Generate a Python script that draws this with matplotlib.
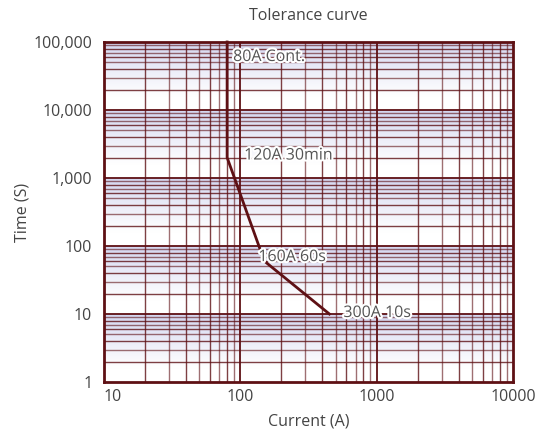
import numpy as np
import matplotlib
matplotlib.use("Agg")
import matplotlib.pyplot as plt
import matplotlib.patheffects as pe
from matplotlib.ticker import FixedLocator, NullFormatter

plt.rcParams['font.family'] = ['Open Sans', 'DejaVu Sans']

# curve data
current = [80, 80, 150, 450]
time_s = [100000, 2000, 60, 10]
labels = ["80A Cont.", "120A 30min", "160A 60s", "300A 10s"]
label_offsets = [(6, -15), (17, 2), (-6, 4), (14, 1)]  # pixels

x_ticks = [10, 100, 1000, 10000]
x_ticklabels = ["10", "100", "1000", "10000"]
y_ticks = [1, 10, 100, 1000, 10000, 100000]
y_ticklabels = ["1", "10", "100", "1,000", "10,000", "100,000"]

maroon = "#5e1014"
txt = "#444444"
fs = 11.5

fig = plt.figure(figsize=(5.39, 4.33), dpi=100)
ax = fig.add_axes([104 / 539, 1 - 382 / 433, 409 / 539, 340 / 433])
ax.set_xscale("log")
ax.set_yscale("log")
ax.set_xlim(10, 10000)
ax.set_ylim(1, 100000)

# lavender gradient, one band per decade (lavender at top -> white at bottom)
n = 500
t = np.linspace(0, 1, n)
frac = (t * 5) % 1.0          # 0 at bottom of decade, 1 at top
w = np.clip((frac - 0.2) / 0.8, 0, 1) ** 1.1
top = np.array([0.83, 0.84, 0.94])
col = 1 - w[:, None] * (1 - top[None, :])
img = np.repeat(col[:, None, :], 2, axis=1)
ax.imshow(img, extent=[0, 1, 0, 1], transform=ax.transAxes, origin="lower",
          aspect="auto", zorder=0, interpolation="bilinear")

# grid lines
for d in range(1, 4):
    for m in range(2, 10):
        ax.axvline(m * 10 ** d, color=maroon, lw=1.0, alpha=0.6 if m % 2 else 0.8, zorder=1)
    if d > 1:
        ax.axvline(10 ** d, color=maroon, lw=1.3, zorder=1)
for d in range(0, 5):
    for m in range(2, 10):
        ax.axhline(m * 10 ** d, color=maroon, lw=1.0, alpha=0.6 if m % 2 else 0.8, zorder=1)
    if d > 0:
        ax.axhline(10 ** d, color=maroon, lw=1.3, zorder=1)

ax.plot(current, time_s, color=maroon, lw=2, zorder=3, clip_on=False)

for xv, yv, lab, off in zip(current, time_s, labels, label_offsets):
    ax.annotate(lab, xy=(xv, yv), xytext=off, textcoords="offset pixels",
                ha="left", va="center", fontsize=fs, color="#555555", zorder=4,
                path_effects=[pe.withStroke(linewidth=3, foreground="white")])

for s in ax.spines.values():
    s.set_color(maroon)
    s.set_linewidth(2)

ax.xaxis.set_major_locator(FixedLocator(x_ticks))
ax.set_xticklabels(x_ticklabels)
ax.xaxis.set_minor_formatter(NullFormatter())
ax.yaxis.set_major_locator(FixedLocator(y_ticks))
ax.set_yticklabels(y_ticklabels)
ax.yaxis.set_minor_formatter(NullFormatter())
ax.tick_params(which="both", length=0, labelsize=fs, labelcolor=txt)
ax.tick_params(axis="x", pad=5)
ax.tick_params(axis="y", pad=8.5)
xl = ax.get_xticklabels()
xl[0].set_ha("left")
xl[-1].set_ha("center")

ax.set_xlabel("Current (A)", fontsize=fs, color=txt, labelpad=6)
ax.set_ylabel("Time (S)", fontsize=fs, color=txt, labelpad=2)
ax.set_title("Tolerance curve", fontsize=fs, color=txt, pad=15.5)

fig.savefig("out.png", dpi=100)
